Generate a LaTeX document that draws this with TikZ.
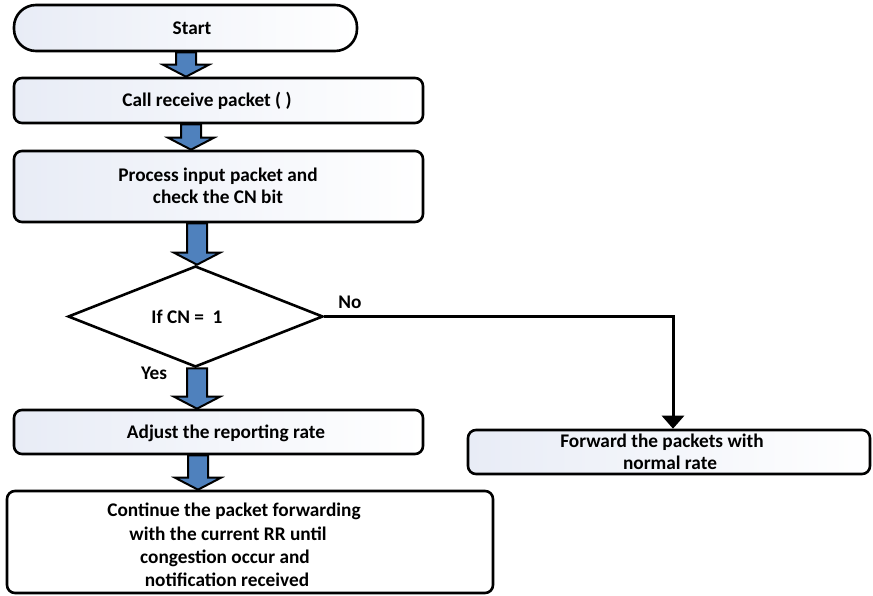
\documentclass[tikz,border=0pt]{standalone}
\usepackage{fontspec}
\setmainfont{Carlito}
\usetikzlibrary{shapes.geometric,calc,arrows.meta}

\definecolor{boxtint}{RGB}{232,236,246}
\definecolor{arrowblue}{RGB}{79,129,189}

\tikzset{
  outline/.style={draw=black, line width=2.6pt},
  procbox/.style={outline, rectangle, rounded corners=8pt, inner sep=0pt,
    left color=boxtint, right color=white},
  plainbox/.style={outline, rectangle, rounded corners=8pt, inner sep=0pt, fill=white},
  terminal/.style={outline, rectangle, rounded corners=22pt, inner sep=0pt,
    left color=boxtint, right color=white},
  decision/.style={outline, diamond, inner sep=0pt, fill=white},
  label/.style={font=\bfseries\fontsize{19.3}{21.5}\selectfont, align=center, inner sep=0pt},
  flowline/.style={draw=black, line width=3pt,
    -{Triangle[width=22pt,length=13pt]}},
  % vertical block arrow whose shaft runs at x = #1 (pt)
  blk/.style={draw=black, line width=2pt, fill=arrowblue, line join=miter,
    to path={let \p1=(\tikztostart), \p2=(\tikztotarget) in
      (#1pt-10pt,\y1) -- (#1pt-10pt,\y2+12pt) -- (#1pt-23pt,\y2+12pt) --
      (#1pt,\y2) -- (#1pt+23pt,\y2+12pt) -- (#1pt+10pt,\y2+12pt) --
      (#1pt+10pt,\y1) -- cycle}},
}

\begin{document}
\begin{tikzpicture}[x=1pt,y=-1pt]
  \useasboundingbox (0,0) rectangle (873,596);

  % shapes
  \node[terminal, minimum width=343pt, minimum height=46pt] (start) at (185.5,28) {};
  \node[procbox, minimum width=409pt, minimum height=45pt] (call) at (218.5,100.5) {};
  \node[procbox, minimum width=409pt, minimum height=71pt] (proc) at (218.5,186.5) {};
  \node[decision, minimum width=255pt, minimum height=101pt] (dec) at (195.5,316.5) {};
  \node[procbox, minimum width=409pt, minimum height=44pt] (adj) at (218.5,432) {};
  \node[plainbox, minimum width=486pt, minimum height=102pt] (cont) at (250,542) {};
  \node[procbox, minimum width=402pt, minimum height=44pt] (fwd) at (669,452) {};

  % texts
  \node[label] (startT) at (192,28) {Start};
  \node[label] (callT) at (207,101) {Call receive packet ( )};
  \node[label] (procT) at (218,186) {Process input packet and\\check the CN bit};
  \node[label] (decT) at (187,317) {If CN =\ \ 1};
  \node[label] (adjT) at (226,433) {Adjust the reporting rate};
  \node[label, font=\bfseries\fontsize{19.3}{23.3}\selectfont] (contT) at (234,545)
    {Continue the packet forwarding\\
     with the current RR until\rule{12pt}{0pt}\\
     congestion occur and\rule{18pt}{0pt}\\
     notification received\rule{14pt}{0pt}};
  \node[label] (fwdT) at (662,452) {Forward the packets with\\\rule{16pt}{0pt}normal rate};
  \node[label] (noT) at (350,302) {No};
  \node[label] (yesT) at (154,373) {Yes};

  % block arrows along the main flow
  \draw[blk=186] (start.south) to (call.north);
  \draw[blk=191] (call.south) to (proc.north);
  \draw[blk=197] (proc.south) to (dec.north);
  \draw[blk=197] (dec.south) to (adj.north);
  \draw[blk=198] (adj.south) to (cont.north);

  % "No" branch
  \draw[flowline] (dec.east) -| ([xshift=4pt]fwd.north);
\end{tikzpicture}
\end{document}
